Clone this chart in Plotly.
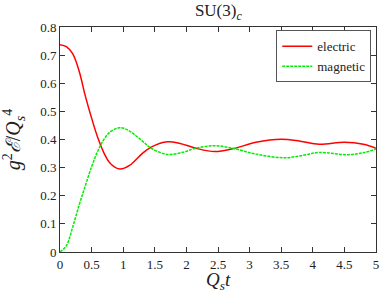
import plotly.graph_objects as go

t_electric = [0, 0.1, 0.2, 0.3, 0.4, 0.5, 0.6, 0.7, 0.8, 0.95, 1.1, 1.3, 1.45, 1.7, 1.9,
              2.15, 2.45, 2.75, 3.1, 3.5, 3.8, 4.1, 4.5, 4.8, 5.0]
electric = [0.737, 0.730, 0.705, 0.645, 0.555, 0.476, 0.405, 0.350, 0.314, 0.295, 0.308,
            0.350, 0.374, 0.392, 0.386, 0.369, 0.357, 0.368, 0.390, 0.401, 0.394, 0.383,
            0.390, 0.383, 0.369]

t_magnetic = [0, 0.1, 0.2, 0.3, 0.4, 0.5, 0.6, 0.7, 0.8, 0.95, 1.1, 1.3, 1.45, 1.7, 1.95,
              2.15, 2.45, 2.75, 3.1, 3.55, 3.85, 4.1, 4.55, 4.8, 5.0]
magnetic = [0.0, 0.022, 0.088, 0.165, 0.235, 0.303, 0.360, 0.402, 0.428, 0.442, 0.430,
            0.395, 0.368, 0.347, 0.355, 0.369, 0.378, 0.368, 0.348, 0.335, 0.344, 0.354,
            0.346, 0.353, 0.366]

x_ticks = [0, 0.5, 1, 1.5, 2, 2.5, 3, 3.5, 4, 4.5, 5]
x_tick_labels = ["0", "0.5", "1", "1.5", "2", "2.5", "3", "3.5", "4", "4.5", "5"]
y_ticks = [0, 0.1, 0.2, 0.3, 0.4, 0.5, 0.6, 0.7, 0.8]
y_tick_labels = ["0", "0.1", "0.2", "0.3", "0.4", "0.5", "0.6", "0.7", "0.8"]

FONT = "Liberation Serif, Times New Roman, serif"

fig = go.Figure()
fig.add_trace(go.Scatter(x=t_electric, y=electric, mode="lines", name="electric",
                         line=dict(color="#ff0000", width=1.5, shape="spline", smoothing=1.0)))
fig.add_trace(go.Scatter(x=t_magnetic, y=magnetic, mode="lines", name="magnetic",
                         line=dict(color="#00ee00", width=1.5, dash="3px,1px",
                                   shape="spline", smoothing=1.0)))

axis_common = dict(showgrid=False, zeroline=False, showline=True, linecolor="#333333",
                   linewidth=1, mirror="ticks", ticks="inside", ticklen=5,
                   tickcolor="#333333", automargin=False,
                   tickfont=dict(family=FONT, size=13, color="#222222"))

fig.update_layout(
    width=382, height=291,
    margin=dict(l=60, r=6, t=27, b=39, autoexpand=False),
    paper_bgcolor="white", plot_bgcolor="white",
    font=dict(family=FONT, color="#222222"),
    title=dict(text="SU(3)<sub><i>c</i></sub>", x=0.5715, xanchor="center", y=0.985,
               yanchor="top", font=dict(family=FONT, size=17, color="#222222")),
    xaxis=dict(range=[0, 5], tickvals=x_ticks, ticktext=x_tick_labels, **axis_common),
    yaxis=dict(range=[0, 0.8], tickvals=y_ticks, ticktext=y_tick_labels,
               title=dict(text="<i>g</i><sup>2</sup><i>ℰ</i>/<i>Q</i><sub><i>s</i></sub><sup>4</sup>",
                          font=dict(family=FONT, size=20, color="#222222")),
               **axis_common),
    legend=dict(x=0.985, xanchor="right", y=0.985, yanchor="top",
                bordercolor="#555555", borderwidth=1, bgcolor="white",
                font=dict(family=FONT, size=13, color="#222222"),
                tracegroupgap=0, itemwidth=30),
    showlegend=True,
    annotations=[dict(text="<i>Q</i><sub><i>s</i></sub><i>t</i>", xref="paper", yref="paper",
                      x=0.5, y=-0.13, xanchor="center", yanchor="middle", showarrow=False,
                      font=dict(family=FONT, size=19, color="#222222"))],
)

fig.write_html("out.html", config={"displayModeBar": False},
               post_script="document.body.style.margin='0';")
